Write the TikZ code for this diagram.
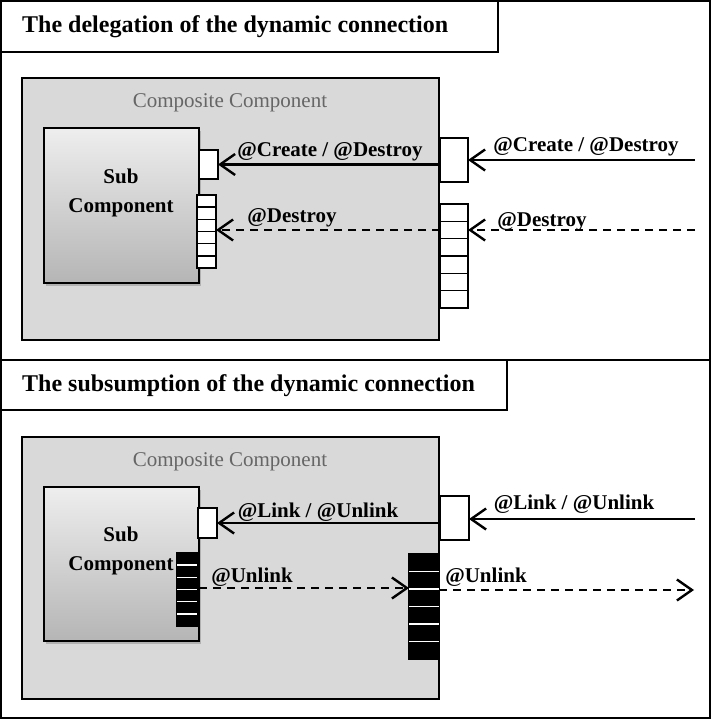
\documentclass[tikz,border=0pt]{standalone}
\usepackage{fontspec}
\setmainfont{Liberation Serif}
\usetikzlibrary{arrows.meta,calc,shadows}

\definecolor{compfill}{HTML}{D9D9D9}
\definecolor{captiongray}{HTML}{666666}
\definecolor{subtop}{HTML}{EEEEEE}
\definecolor{subbot}{HTML}{B5B5B5}

\tikzset{
  box/.style={draw, inner sep=0pt, outer sep=0pt, anchor=north west},
  frame/.style={box, line width=1.8bp},
  titlebox/.style={box, line width=1.3bp, fill=white},
  composite/.style={box, line width=2.6bp, fill=compfill},
  subcomp/.style={box, line width=1.9bp, top color=subtop, bottom color=subbot,
    drop shadow={shadow xshift=2bp, shadow yshift=-2.5bp, fill=black, opacity=0.18}},
  port/.style={box, line width=1.4bp, fill=white},
  blackport/.style={box, line width=1.4bp, fill=black},
  label/.style={inner sep=0pt, align=center, font=\fontsize{21bp}{29bp}\selectfont\bfseries},
  caption/.style={inner sep=0pt, text=captiongray, font=\fontsize{21bp}{25bp}\selectfont},
  heading/.style={inner sep=0pt, anchor=west, font=\fontsize{24bp}{28bp}\selectfont\bfseries},
  msg/.style={line width=2.5bp, -{Straight Barb[length=15bp,width=21bp,line width=2.4bp]}},
  msgdash/.style={msg, dash pattern=on 8bp off 6bp},
  divider/.style={line width=1.4bp},
  whitedivider/.style={line width=1.4bp, draw=white},
}

% box node from its top-left corner (#3,#4) to its bottom-right corner (#5,#6)
\newcommand\boxat[6]{\node[#1, minimum width={(#5-#3)*1bp}, minimum height={(#6-#4)*1bp}] (#2) at (#3,#4) {};}
% horizontal dividers splitting a port stack into #3 cells
\newcommand\cells[3]{%
  \foreach \i in {1,...,\numexpr#3-1\relax}{
    \draw[#1] ($(#2.north west)!\i/#3!(#2.south west)$) -- ($(#2.north east)!\i/#3!(#2.south east)$);
  }}

\begin{document}
\begin{tikzpicture}[x=1bp, y=-1bp]
\useasboundingbox (0,0) rectangle (712,719);

% ---------------- delegation ----------------
\boxat{frame}{frameA}{1}{1}{710}{360}
\boxat{titlebox}{titleA}{1}{1}{498}{52}
\node[heading] (headA) at (22,27) {The delegation of the dynamic connection};

\boxat{composite}{compA}{22}{78}{439}{340}
\node[caption] (capA) at (230,103) {Composite Component};

\boxat{subcomp}{subA}{44}{128}{199}{283}
\node[label] (subtextA) at (121,193) {Sub\\Component};

\boxat{port}{sportA}{199}{150}{218}{179}
\boxat{port}{smultiA}{197}{195}{216}{268}
\cells{divider}{smultiA}{6}

\boxat{port}{cportA}{440}{138}{468}{182}
\boxat{port}{cmultiA}{440}{204}{468}{308}
\cells{divider}{cmultiA}{6}

\coordinate (inA1) at (695,160);
\coordinate (inA2) at (695,230);

\draw[msg] (inA1) -- (inA1 -| cportA.east);
\draw[msg] (cportA.west |- sportA.east) -- (sportA.east);
\draw[msgdash] (inA2) -- (inA2 -| cmultiA.east);
\draw[msgdash] (inA2 -| cmultiA.west) -- (inA2 -| smultiA.east);

\node[label] (lblA1) at (330,152) {@Create / @Destroy};
\node[label] (lblA2) at (586,147) {@Create / @Destroy};
\node[label] (lblA3) at (292,218) {@Destroy};
\node[label] (lblA4) at (542,222) {@Destroy};

% ---------------- subsumption ----------------
\boxat{frame}{frameB}{1}{360}{710}{718}
\boxat{titlebox}{titleB}{1}{360}{507}{410}
\node[heading] (headB) at (22,386) {The subsumption of the dynamic connection};

\boxat{composite}{compB}{22}{437}{439}{699}
\node[caption] (capB) at (230,462) {Composite Component};

\boxat{subcomp}{subB}{44}{487}{199}{641}
\node[label] (subtextB) at (121,551) {Sub\\Component};

\boxat{port}{sportB}{198}{508}{217}{538}
\boxat{blackport}{smultiB}{177}{553}{197}{626}
\cells{whitedivider}{smultiB}{6}

\boxat{port}{cportB}{440}{496}{469}{540}
\boxat{blackport}{cmultiB}{409}{554}{439}{659}
\cells{whitedivider}{cmultiB}{6}

\coordinate (inB1) at (695,519);
\coordinate (outB) at (694,590);
\coordinate (midB) at (300,588);

\draw[msg] (inB1) -- (inB1 -| cportB.east);
\draw[msg] (cportB.west |- sportB.east) -- (sportB.east);
\draw[msgdash] (midB -| subB.east) -- (midB -| cmultiB.west);
\draw[msgdash] (outB -| cmultiB.east) -- (outB);

\node[label] (lblB1) at (318,512) {@Link / @Unlink};
\node[label] (lblB2) at (574,504) {@Link / @Unlink};
\node[label] (lblB3) at (252,577) {@Unlink};
\node[label] (lblB4) at (486,577) {@Unlink};
\end{tikzpicture}
\end{document}
